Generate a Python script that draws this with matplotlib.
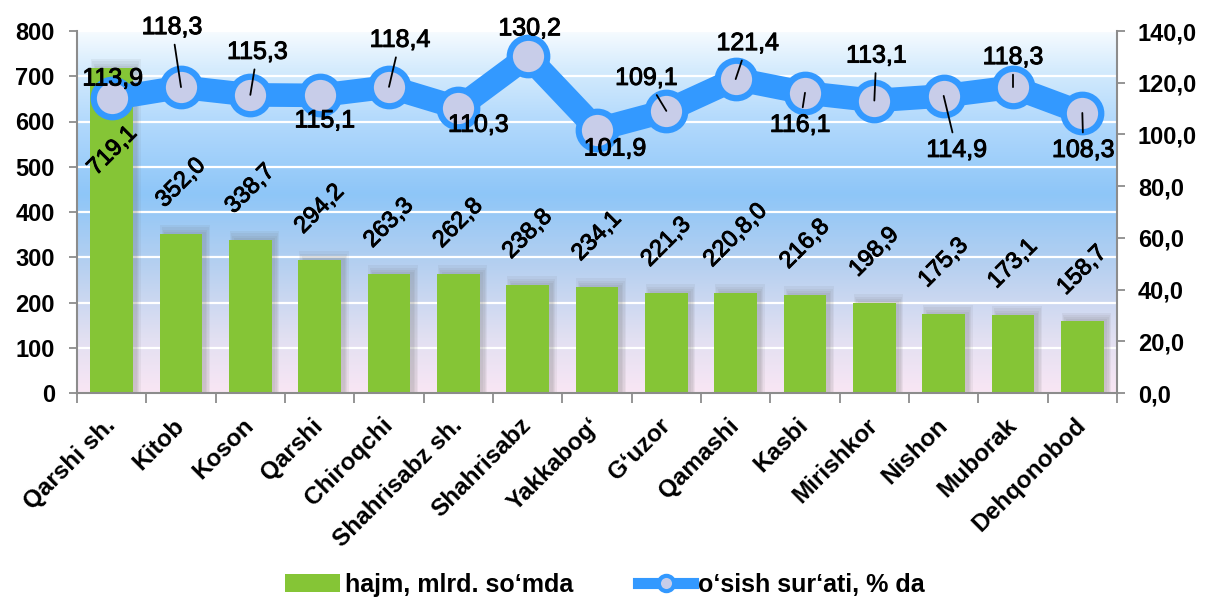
import numpy as np
import matplotlib.pyplot as plt
import matplotlib.patheffects as pe
from matplotlib.colors import LinearSegmentedColormap
from matplotlib.lines import Line2D
from matplotlib.patches import Patch

plt.rcParams["font.family"] = ["Liberation Sans", "DejaVu Sans"]

# --- DATA ---
districts = ["Qarshi sh.", "Kitob", "Koson", "Qarshi", "Chiroqchi",
             "Shahrisabz sh.", "Shahrisabz", "Yakkabog\u2018", "G\u2018uzor",
             "Qamashi", "Kasbi", "Mirishkor", "Nishon", "Muborak", "Dehqonobod"]
volume = [719.1, 352.0, 338.7, 294.2, 263.3, 262.8, 238.8, 234.1,
          221.3, 220.8, 216.8, 198.9, 175.3, 173.1, 158.7]
growth = [113.9, 118.3, 115.3, 115.1, 118.4, 110.3, 130.2, 101.9,
          109.1, 121.4, 116.1, 113.1, 114.9, 118.3, 108.3]
left_ticks = list(range(0, 801, 100))
right_ticks = list(range(0, 141, 20))
series_names = ["hajm, mlrd. so\u2018mda", "o\u2018sish sur\u2018ati, % da"]

vol_labels = [f"{v:.1f}".replace(".", ",") for v in volume]
vol_labels[9] = "220,8,0"  # printed like this in the source chart
growth_labels = [f"{v:.1f}".replace(".", ",") for v in growth]

# --- LABEL PLACEMENT (pixel offsets) ---
growth_offsets = [(1, 20), (-9, 60), (7, 43), (5, -25), (11, 47), (20, -17),
                  (2, 28), (18, -19), (-20, 33), (12, 36), (-5, -32), (2, 45),
                  (13, -54), (0, 30), (1, -37)]
has_leader = [False, True, True, False, True, False, False, False,
              True, True, True, True, True, True, True]

GREEN = "#85C536"
BLUE = "#3399FF"
GREY = "#8c8c8c"
thick = [pe.withStroke(linewidth=0.7, foreground="black")]

fig = plt.figure(figsize=(12.1, 6.12), dpi=100)
ax = fig.add_axes([77 / 1210, 219 / 612, 1040 / 1210, 362 / 612])
x = np.arange(len(districts))

# background gradient
bg = LinearSegmentedColormap.from_list("bg", [
    (0.0, "#f9e6f4"), (0.15, "#e2e0f2"), (0.35, "#b6d0f0"),
    (0.55, "#8ec6f8"), (0.75, "#b2d9fc"), (0.9, "#d6ecfd"), (1.0, "#f6fbff")])
ax.imshow(np.linspace(0, 1, 256).reshape(-1, 1), cmap=bg, origin="lower",
          extent=(0, 1, 0, 1), transform=ax.transAxes, aspect="auto", zorder=-2)

# soft bar shadows, slightly up and to the right
for k in range(4):
    ax.bar(x + 0.06, np.array(volume) + 4 + 5 * k, width=0.60 + 0.04 * k,
           color="#666666", alpha=0.08, zorder=1, linewidth=0)
ax.bar(x, volume, width=0.62, color=GREEN, zorder=2, linewidth=0)

for i, v in enumerate(volume):
    off = (1, -112) if i == 0 else (0, 22)
    ax.annotate(vol_labels[i], (i, v), xytext=off, textcoords="offset pixels",
                rotation=45, ha="center", va="bottom", fontsize=17, zorder=6,
                path_effects=thick)

ax.set_xlim(-0.5, len(districts) - 0.5)
ax.set_ylim(0, 800)
ax.set_yticks(left_ticks)
ax.set_yticklabels([str(t) for t in left_ticks], fontweight="bold")
ax.yaxis.grid(True, color="white", lw=1.6)
ax.set_axisbelow(True)
ax.set_xticks(np.arange(-0.5, len(districts), 1))
ax.set_xticklabels([])
ax.tick_params(axis="y", direction="out", length=6, width=1.3, color=GREY,
               labelsize=17, pad=10)
ax.tick_params(axis="x", direction="out", length=7, width=1.3, color=GREY)
for s in ["top", "right"]:
    ax.spines[s].set_visible(False)
for s in ["left", "bottom"]:
    ax.spines[s].set_color(GREY)
    ax.spines[s].set_linewidth(1.5)

for i, name in enumerate(districts):
    ax.annotate(name, xy=(i, 0), xycoords=("data", "axes fraction"),
                xytext=(0, -29), textcoords="offset pixels", rotation=45,
                rotation_mode="anchor", ha="right", va="center",
                fontsize=17.5, fontweight="bold")

# growth line
ax2 = ax.twinx()
ax2.plot(x, growth, color=BLUE, lw=17, solid_joinstyle="round", zorder=3)
ax2.plot(x, growth, linestyle="none", marker="o", ms=27, mfc="#c8cde9",
         mec=BLUE, mew=4.5, zorder=4)
ax2.set_ylim(0, 140)
ax2.set_yticks(right_ticks)
ax2.set_yticklabels([f"{t:.1f}".replace(".", ",") for t in right_ticks],
                    fontweight="bold")
ax2.tick_params(axis="y", direction="out", length=6, width=1.3, color=GREY,
                labelsize=17, pad=9)
for s in ["top", "left", "bottom"]:
    ax2.spines[s].set_visible(False)
ax2.spines["right"].set_color(GREY)
ax2.spines["right"].set_linewidth(1.5)

for i, v in enumerate(growth):
    arrow = dict(arrowstyle="-", color="black", lw=1.3, shrinkA=2, shrinkB=0) \
        if has_leader[i] else None
    ax2.annotate(growth_labels[i], (i, v), xytext=growth_offsets[i],
                 textcoords="offset pixels", ha="center", va="center",
                 fontsize=18, arrowprops=arrow, zorder=6, path_effects=thick)

handles = [Patch(facecolor=GREEN, edgecolor="none"),
           Line2D([], [], color=BLUE, lw=8, marker="o", ms=11,
                  mfc="#c8cde9", mec=BLUE, mew=3)]
fig.legend(handles, series_names, loc="lower center", ncol=2, frameon=False,
           bbox_to_anchor=(0.5, -0.012), prop=dict(weight="bold", size=18),
           handlelength=2.2, handleheight=0.7, handletextpad=0.2,
           columnspacing=2.6)

fig.savefig("out.png", dpi=100)
